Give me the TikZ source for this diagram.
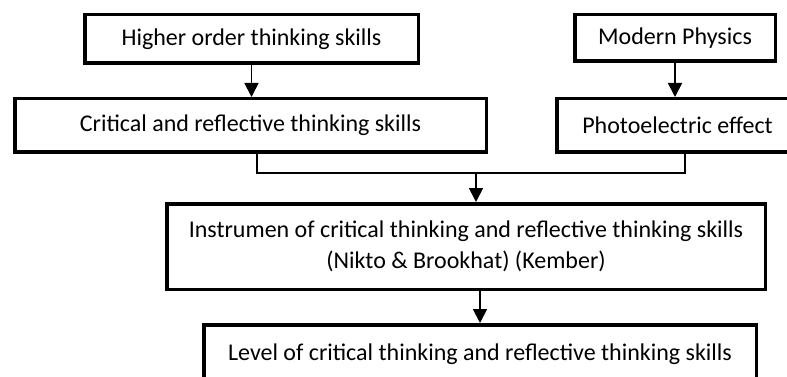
\documentclass[tikz,border=0pt]{standalone}
\usepackage{fontspec}
\setmainfont{Carlito}
\usetikzlibrary{arrows.meta, positioning}
\tikzstyle{box} = [rectangle, draw, line width=3.5pt, text centered, align=center, font=\fontsize{24}{31}\selectfont]
\tikzstyle{link} = [line width=1.8pt]
\tikzstyle{cable} = [line width=1.8pt, -{Triangle[width=14pt,length=14pt]}]

\begin{document}
\begin{tikzpicture}[x=1pt, y=1pt]
  \clip (0,0) rectangle (787,-377);
  \node (hots) [box, minimum width=333.5pt, minimum height=48.5pt] at (251.5,-39) {Higher order thinking skills};
  \node (crit) [box, minimum width=471.5pt, minimum height=53.5pt, below=32pt of hots, xshift=-1pt] {Critical and reflective thinking skills};
  \node (phys) [box, minimum width=200.5pt, minimum height=46.5pt] at (675,-38) {Modern Physics};
  \node (photo) [box, minimum width=241.5pt, minimum height=53.5pt, below=34pt of phys, xshift=2.5pt] {Photoelectric effect};
  \node (instr) [box, minimum width=598.5pt, minimum height=85.5pt, below=48pt of crit, xshift=215.5pt] {Instrumen of critical thinking and reflective thinking skills\\(Nikto \& Brookhat) (Kember)};
  \node (level) [box, minimum width=552.5pt, minimum height=58pt, below=32pt of instr, xshift=14pt] {Level of critical thinking and reflective thinking skills};
  \draw [cable] (hots) -- (hots |- crit.north);
  \draw [cable] (phys) -- (phys |- photo.north);
  % both upper rows meet on one line
  \draw [link] ([xshift=6.5pt]crit.south) -- ++(0,-19pt) coordinate (cl) -| ([xshift=7.5pt]photo.south);
  \draw [cable] ([xshift=10pt]instr.north |- cl) -- ([xshift=10pt]instr.north);
  \draw [cable] (instr.south -| level.north) -- (level.north);
\end{tikzpicture}
\end{document}
